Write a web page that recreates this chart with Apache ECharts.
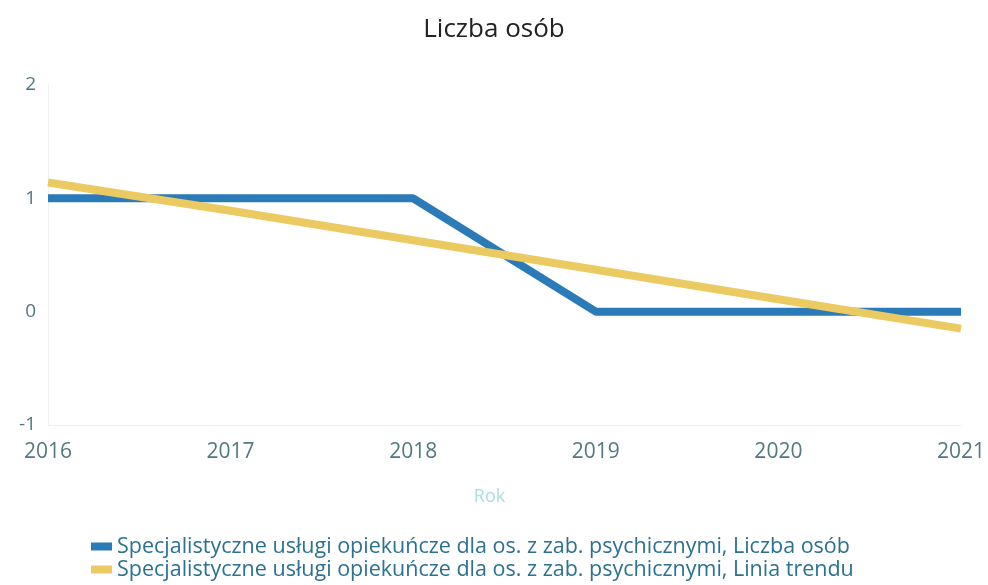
<!DOCTYPE html>
<html><head><meta charset="utf-8">
<script src="https://cdn.jsdelivr.net/npm/echarts@6/dist/echarts.min.js"></script>
<style>html,body{margin:0;padding:0;background:#fff}#c{width:988px;height:585px}</style>
</head><body><div id="c"></div>
<script>
const years = ['2016','2017','2018','2019','2020','2021'];
const liczbaOsob = [1, 1, 1, 0, 0, 0];
const liniaTrendu = [1.14, 0.89, 0.63, 0.37, 0.11, -0.15];
const yTicks = [-1, 0, 1, 2];
const seriesNames = ['Specjalistyczne usługi opiekuńcze dla os. z zab. psychicznymi, Liczba osób','Specjalistyczne usługi opiekuńcze dla os. z zab. psychicznymi, Linia trendu'];

const chart = echarts.init(document.getElementById('c'));
chart.setOption({
  animation: false,
  title: { text: 'Liczba osób', left: 'center', top: 12, textStyle: { fontFamily: 'Open Sans', fontSize: 26, fontWeight: 'normal', color: '#222' } },
  grid: { left: 48, right: 23, top: 85, bottom: 160 },
  legend: {
    orient: 'vertical', left: 91, top: 535, height: 60, padding: 0,
    itemWidth: 21, itemHeight: 8, itemGap: 0,
    icon: 'rect',
    textStyle: { fontFamily: 'Open Sans', fontSize: 21.5, lineHeight: 23, color: '#2b7290' },
    data: seriesNames
  },
  xAxis: {
    type: 'category', data: years, boundaryGap: false,
    name: 'Rok', nameLocation: 'middle', nameGap: 63,
    nameTextStyle: { fontFamily: 'Open Sans', fontSize: 18, color: '#a9dde2', padding: [0, 30, 0, 0] },
    axisLine: { onZero: false, lineStyle: { color: '#eef2f3' } }, axisTick: { show: false },
    axisLabel: { margin: 17, fontFamily: 'Open Sans', fontSize: 21, color: '#517a80' },
    splitLine: { show: false }
  },
  yAxis: {
    type: 'value', min: yTicks[0], max: yTicks[yTicks.length-1], interval: 1,
    axisLine: { show: true, lineStyle: { color: '#eef2f3' } }, axisTick: { show: false },
    axisLabel: { margin: 12, fontFamily: 'Open Sans', fontSize: 19, color: '#517a80' },
    splitLine: { show: false }
  },
  series: [
    { name: seriesNames[0], type: 'line', data: liczbaOsob, symbol: 'none', lineStyle: { width: 8, color: '#2c7bb9' }, itemStyle: { color: '#2c7bb9' }, z: 2 },
    { name: seriesNames[1], type: 'line', data: liniaTrendu, symbol: 'none', lineStyle: { width: 8, color: '#ebca62' }, itemStyle: { color: '#ebca62' }, z: 3 }
  ]
});
</script></body></html>
